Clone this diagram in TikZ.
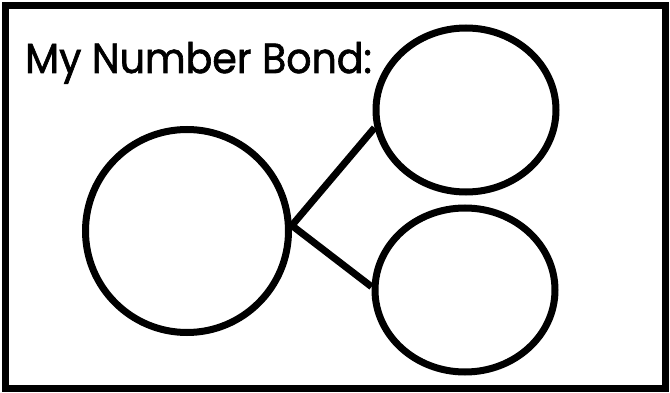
\documentclass[tikz,border=0pt]{standalone}
\usepackage{fontspec}
\setmainfont{Poppins}[FakeBold=1.6]
\usetikzlibrary{shapes.geometric, positioning}

\begin{document}
\begin{tikzpicture}[x=1pt, y=-1pt]
        \tikzstyle{frame} = [draw, line width=7pt]
        \tikzstyle{whole} = [circle, draw, line width=7pt, minimum size=203pt, inner sep=0pt]
        \tikzstyle{part} = [ellipse, draw, line width=7pt, minimum width=180pt, minimum height=164pt, inner sep=0pt]
        \tikzstyle{line} = [draw, line width=7pt]

        \useasboundingbox (0,0) rectangle (670,393);
        \path [frame] (5,6) rectangle (665.5,388.5);

        \node [anchor=base west, inner sep=0pt, font=\fontsize{42}{48}\selectfont] (title) at (25,73) {\scalebox{0.94}[1]{My Number Bond:}};

        \node [whole] (total) at (187,231) {};
        \node [part] (top) at (466,110) {};
        \node [part] (bottom) at (465,290) {};

        \path [line] (total.3) -- (top.191);
        \path [line] (total.3) -- (bottom.178);
    \end{tikzpicture}
\end{document}
